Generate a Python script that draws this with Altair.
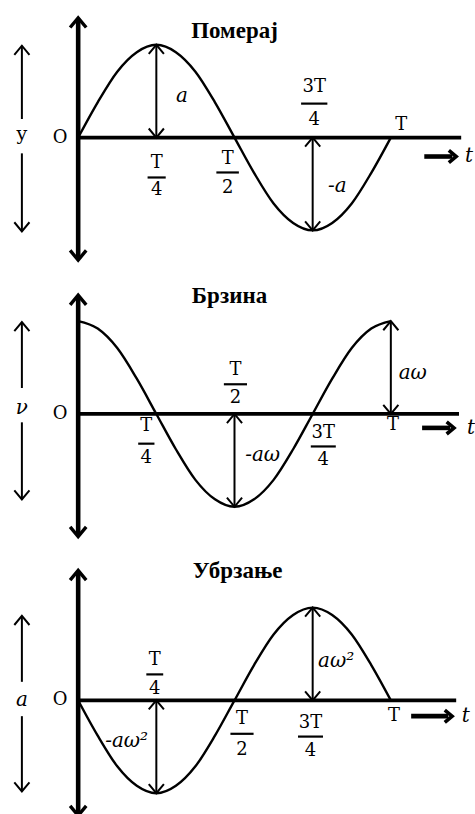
import altair as alt
import pandas as pd

# Time axis in units of the period T (sampled every T/16)
PHASE = [0, 0.0625, 0.125, 0.1875, 0.25, 0.3125, 0.375, 0.4375, 0.5,
         0.5625, 0.625, 0.6875, 0.75, 0.8125, 0.875, 0.9375, 1.0]

# Curves in units of their amplitude (a, a*omega, a*omega^2)
DISPLACEMENT = [0, 0.38, 0.71, 0.92, 1, 0.92, 0.71, 0.38, 0,
                -0.38, -0.71, -0.92, -1, -0.92, -0.71, -0.38, 0]
VELOCITY = [1, 0.92, 0.71, 0.38, 0, -0.38, -0.71, -0.92, -1,
            -0.92, -0.71, -0.38, 0, 0.38, 0.71, 0.92, 1]
ACCELERATION = [0, -0.38, -0.71, -0.92, -1, -0.92, -0.71, -0.38, 0,
                0.38, 0.71, 0.92, 1, 0.92, 0.71, 0.38, 0]

TITLES = ["Померај", "Брзина", "Убрзање"]
QUANTITY = ["y", "ν", "a"]
CURVES = [DISPLACEMENT, VELOCITY, ACCELERATION]

# Amplitude markers: (time, value reached, label, label t, label v)
MARKERS = [
    [(0.25, 1, "a", 0.332, 0.45), (0.75, -1, "-a", 0.829, -0.52)],
    [(1.0, 1, "aω", 1.07, 0.44), (0.5, -1, "-aω", 0.59, -0.44)],
    [(0.75, 1, "aω²", 0.825, 0.42), (0.25, -1, "-aω²", 0.155, -0.44)],
]

# Fraction tick labels: (numerator, denominator, centre t, numerator v, bar v, denominator v, bar half-width)
FRACTIONS = [
    [("T", "4", 0.251, -0.27, -0.43, -0.57, 0.029),
     ("T", "2", 0.478, -0.226, -0.376, -0.54, 0.036),
     ("3T", "4", 0.755, 0.54, 0.366, 0.194, 0.042)],
    [("T", "4", 0.218, -0.13, -0.32, -0.47, 0.026),
     ("T", "2", 0.503, 0.47, 0.32, 0.17, 0.037),
     ("3T", "4", 0.784, -0.20, -0.35, -0.50, 0.04)],
    [("T", "4", 0.245, 0.44, 0.28, 0.12, 0.027),
     ("T", "2", 0.524, -0.20, -0.36, -0.54, 0.037),
     ("3T", "4", 0.743, -0.24, -0.39, -0.55, 0.04)],
]

# Full-period label "T" position
PERIOD_LABEL = [(1.033, 0.14), (1.007, -0.12), (1.01, -0.17)]
# Title position
TITLE_POS = [(0.5, 1.15), (0.484, 1.27), (0.51, 1.39)]
# Vertical axis extent (bottom, top) and horizontal axis end
V_AXIS = [(-1.32, 1.29), (-1.32, 1.28), (-1.24, 1.40)]
H_AXIS_END = [1.225, 1.218, 1.209]
# Quantity arrow on the left: (top, gap top, gap bottom, bottom, label v)
SIDE_ARROW = [(0.99, 0.2, -0.17, -1.01, 0.0),
              (0.99, 0.28, -0.09, -0.92, 0.06),
              (0.91, 0.2, -0.17, -0.98, 0.0)]
# "-> t" arrow: (start t, end t, v, label t)
TIME_ARROW = [(1.107, 1.209, -0.204, 1.25),
              (1.10, 1.202, -0.15, 1.256),
              (1.065, 1.196, -0.17, 1.24)]

X_DOMAIN = [-0.25, 1.266]
Y_DOMAINS = [[-1.430, 1.473], [-1.355, 1.548], [-1.258, 1.688]]
HEIGHTS = [270, 270, 274]
WIDTH = 475

CHEVRON = "M -1 1.2 L 0 0 L 1 1.2"
SERIF = "DejaVu Serif"


def panel(i):
    xs = alt.Scale(domain=X_DOMAIN, nice=False, zero=False)
    ys = alt.Scale(domain=Y_DOMAINS[i], nice=False, zero=False)
    X = alt.X("t:Q", scale=xs, axis=None)
    Y = alt.Y("v:Q", scale=ys, axis=None)
    ANG = alt.Angle("ang:Q", scale=None)

    curve = pd.DataFrame({"t": PHASE, "v": CURVES[i]})
    line = alt.Chart(curve).mark_line(
        color="black", strokeWidth=2.4, interpolate="monotone"
    ).encode(x=X, y=Y)

    # Axes and the time arrow
    vb, vt = V_AXIS[i]
    ta0, ta1, tav, tat = TIME_ARROW[i]
    heavy = pd.DataFrame([
        {"t": 0, "v": vb + 0.02, "t2": 0, "v2": vt - 0.02, "w": 4.6},
        {"t": 0, "v": 0, "t2": H_AXIS_END[i], "v2": 0, "w": 3.8},
        {"t": ta0, "v": tav, "t2": ta1 - 0.012, "v2": tav, "w": 4.6},
    ])
    heavy_rules = alt.Chart(heavy).mark_rule(color="black").encode(
        x=X, y=Y, x2="t2:Q", y2="v2:Q",
        strokeWidth=alt.StrokeWidth("w:Q", scale=None),
    )
    axis_heads = pd.DataFrame([
        {"t": 0, "v": vt, "ang": 0},
        {"t": 0, "v": vb, "ang": 180},
    ])
    axis_head_marks = alt.Chart(axis_heads).mark_point(
        shape=CHEVRON, filled=False, color="black", strokeWidth=3.4,
        size=260, opacity=1, strokeJoin="miter",
    ).encode(x=X, y=Y, angle=ANG)
    time_head = pd.DataFrame([{"t": ta1, "v": tav, "ang": 90}])
    time_head_mark = alt.Chart(time_head).mark_point(
        shape=CHEVRON, filled=False, color="black", strokeWidth=3.6,
        size=150, opacity=1, strokeJoin="miter",
    ).encode(x=X, y=Y, angle=ANG)

    # Thin double arrows: amplitude markers and the side quantity arrow
    top, gtop, gbot, bot, _ = SIDE_ARROW[i]
    thin = [
        {"t": -0.18, "v": gtop, "t2": -0.18, "v2": top},
        {"t": -0.18, "v": gbot, "t2": -0.18, "v2": bot},
    ]
    heads = [
        {"t": -0.18, "v": top, "ang": 0},
        {"t": -0.18, "v": bot, "ang": 180},
    ]
    for (tm, val, _, _, _) in MARKERS[i]:
        thin.append({"t": tm, "v": 0, "t2": tm, "v2": val})
        up_end, down_end = (val, 0) if val > 0 else (0, val)
        heads.append({"t": tm, "v": up_end, "ang": 0})
        heads.append({"t": tm, "v": down_end, "ang": 180})
    thin_rules = alt.Chart(pd.DataFrame(thin)).mark_rule(
        color="black", strokeWidth=2
    ).encode(x=X, y=Y, x2="t2:Q", y2="v2:Q")
    thin_heads = alt.Chart(pd.DataFrame(heads)).mark_point(
        shape=CHEVRON, filled=False, color="black", strokeWidth=2,
        size=230, opacity=1,
    ).encode(x=X, y=Y, angle=ANG)

    # Fractions, period label and origin
    bars, roman = [], []
    for (num, den, tc, vn, vbar, vd, hw) in FRACTIONS[i]:
        bars.append({"t": tc - hw, "v": vbar, "t2": tc + hw, "v2": vbar})
        roman.append({"t": tc, "v": vn, "txt": num})
        roman.append({"t": tc, "v": vd, "txt": den})
    roman.append({"t": PERIOD_LABEL[i][0], "v": PERIOD_LABEL[i][1], "txt": "T"})
    roman.append({"t": -0.058, "v": 0, "txt": "O"})
    bar_rules = alt.Chart(pd.DataFrame(bars)).mark_rule(
        color="black", strokeWidth=2.2
    ).encode(x=X, y=Y, x2="t2:Q", y2="v2:Q")
    roman_text = alt.Chart(pd.DataFrame(roman)).mark_text(
        font=SERIF, fontSize=18, color="black", baseline="middle"
    ).encode(x=X, y=Y, text="txt:N")

    italic = [{"t": lt, "v": lv, "txt": lab} for (_, _, lab, lt, lv) in MARKERS[i]]
    italic.append({"t": tat, "v": tav, "txt": "t"})
    if QUANTITY[i] != "y":
        italic.append({"t": -0.18, "v": SIDE_ARROW[i][4], "txt": QUANTITY[i]})
    italic_text = alt.Chart(pd.DataFrame(italic)).mark_text(
        font=SERIF, fontSize=20, fontStyle="italic", color="black", baseline="middle"
    ).encode(x=X, y=Y, text="txt:N")

    layers = [line, heavy_rules, axis_head_marks, time_head_mark, thin_rules,
              thin_heads, bar_rules, roman_text, italic_text]

    if QUANTITY[i] == "y":
        ylab = alt.Chart(pd.DataFrame([{"t": -0.18, "v": SIDE_ARROW[i][4] + 0.04, "txt": "y"}])).mark_text(
            font=SERIF, fontSize=19, color="black", baseline="middle"
        ).encode(x=X, y=Y, text="txt:N")
        layers.append(ylab)

    title = alt.Chart(pd.DataFrame([{"t": TITLE_POS[i][0], "v": TITLE_POS[i][1], "txt": TITLES[i]}])).mark_text(
        font="Liberation Serif", fontSize=23, fontWeight="bold", color="black", baseline="middle"
    ).encode(x=X, y=Y, text="txt:N")
    layers.append(title)

    return alt.layer(*layers).properties(width=WIDTH, height=HEIGHTS[i])


chart = alt.vconcat(*[panel(i) for i in range(3)], spacing=0).properties(
    padding=0, background="white"
).configure_view(stroke=None)

chart.save("out.html", embed_options={"renderer": "svg", "actions": False})
